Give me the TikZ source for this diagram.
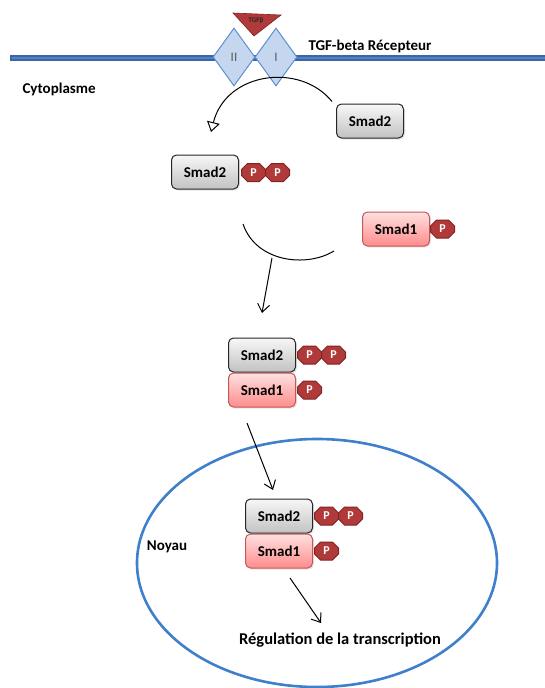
\documentclass[tikz,border=0pt]{standalone}
\usepackage{fontspec}
\setmainfont{Carlito}
\usetikzlibrary{positioning,shapes.geometric,shapes.misc,arrows.meta,shadows}

\definecolor{membrane}{RGB}{58,102,166}
\definecolor{membclair}{RGB}{84,128,196}
\definecolor{recfond}{RGB}{197,215,238}
\definecolor{recbord}{RGB}{92,143,208}
\definecolor{phosfond}{RGB}{176,58,58}
\definecolor{phosbord}{RGB}{130,34,34}
\definecolor{rosebord}{RGB}{196,86,86}
\definecolor{noyaubleu}{RGB}{63,127,203}

\begin{document}
\begin{tikzpicture}[x=1pt,y=-1pt,node distance=2pt,
  smad/.style={rounded corners=5pt,minimum width=67pt,minimum height=34pt,inner sep=0pt,
    font=\bfseries\fontsize{15}{17}\selectfont,line width=1pt,
    drop shadow={opacity=0.2,shadow xshift=1.5pt,shadow yshift=-1.5pt}},
  gris/.style={smad,draw=black!85,top color=gray!6,bottom color=gray!48},
  rose/.style={smad,draw=rosebord,top color=red!12,bottom color=red!45},
  phos/.style={chamfered rectangle,chamfered rectangle xsep=3pt,chamfered rectangle ysep=3pt,
    minimum width=24pt,minimum height=18pt,inner sep=0pt,fill=phosfond,draw=phosbord,
    line width=1pt,text=white,font=\bfseries\fontsize{12}{13}\selectfont},
  recepteur/.style={diamond,minimum width=42pt,minimum height=58pt,inner sep=0pt,
    fill=recfond,draw=recbord,line width=1pt,text=black!65,font=\fontsize{13}{14}\selectfont},
  titre/.style={font=\bfseries\fontsize{15}{17}\selectfont},
  fleche/.style={-{Straight Barb[length=8pt,width=12pt]},line width=1pt}]

\useasboundingbox (0,0) rectangle (545,688);

% membrane
\draw[line width=6pt,membrane] (10,58) -- (545,58);
\draw[line width=1.5pt,membclair] (12,58) -- (545,58);

% recepteurs
\node[recepteur] (rII) at (234,57) {II};
\node[recepteur] (rI) at (276,57) {I};
\fill[phosfond,draw=phosbord,line width=0.6pt] (233,13) -- (281,15) -- (254,36) -- cycle;
\node[font=\bfseries\fontsize{7}{8}\selectfont,text=black!85] (tgf) at (256,21) {TGFβ};
\node[titre,anchor=west] (legrec) at (305,46) {TGF-beta Récepteur};
\node[titre,anchor=west] (cyto) at (19,89) {Cytoplasme};

% Smad2 libre
\node[gris] (s2) at (370,121) {Smad2};
\coordinate (pointe) at (211,132);
\draw[line width=1pt,-{Triangle[open,length=10pt,width=13pt,fill=white]}]
  ([xshift=-4pt,yshift=2pt]s2.north west) .. controls (300,62) and (226,72) .. (pointe);

% Smad2 phosphorylee
\node[gris] (s2p) at (205,172) {Smad2};
\node[phos,right=2pt of s2p,yshift=-0.5pt] (p1) {P};
\node[phos,right=-1pt of p1] (p2) {P};

% Smad1
\node[rose] (s1) at (396,229) {Smad1};
\node[phos,right=0pt of s1] (p3) {P};

% association
\coordinate (arcg) at (243,224);
\coordinate (arcd) at (334,251);
\coordinate (joint) at (272,258);
\coordinate (bas) at (262,313);
\draw[line width=1pt] (arcg) .. controls (256,262) and (306,268) .. (arcd);
\draw[fleche] (joint) -- (bas);

% complexe
\node[gris] (c2) at (262,355) {Smad2};
\node[rose,below=0pt of c2] (c1) {Smad1};
\node[phos,right=1pt of c2] (p4) {P};
\node[phos,right=-1pt of p4] (p5) {P};
\node[phos,right=1pt of c1] (p6) {P};

% noyau
\node[ellipse,draw=noyaubleu,line width=2.6pt,minimum width=360pt,minimum height=248pt] (noyau) at (317,563) {};
\node[titre] (nom) at (167,547) {Noyau};

\coordinate (dep) at (247,423);
\coordinate (arr) at (273,490);
\draw[fleche] (dep) -- (arr);

\node[gris] (n2) at (279,516) {Smad2};
\node[rose,below=0pt of n2] (n1) {Smad1};
\node[phos,right=1pt of n2] (p7) {P};
\node[phos,right=-1pt of p7] (p8) {P};
\node[phos,right=1pt of n1] (p9) {P};

\coordinate (dep2) at (290,578);
\coordinate (arr2) at (321,623);
\draw[fleche] (dep2) -- (arr2);
\node[font=\bfseries\fontsize{16.5}{18}\selectfont] (regul) at (340,640) {Régulation de la transcription};

\end{tikzpicture}
\end{document}
